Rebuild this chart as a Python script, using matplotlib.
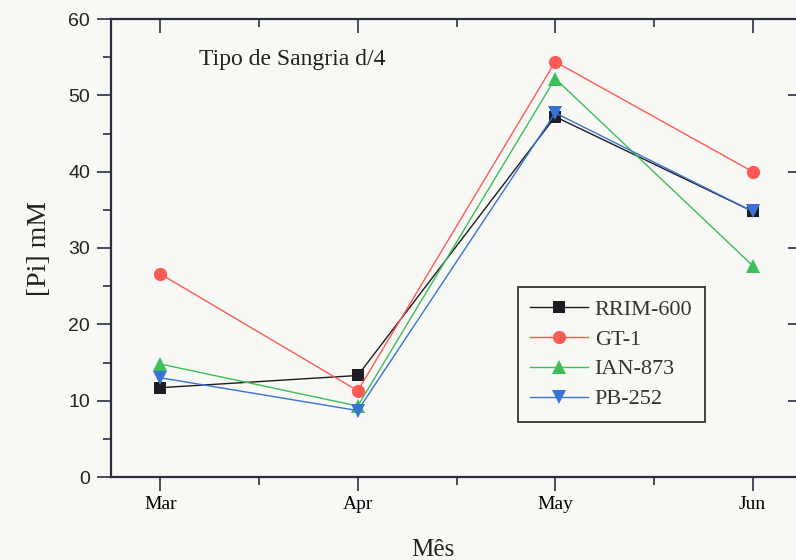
import matplotlib
matplotlib.use("Agg")
import matplotlib.pyplot as plt
from matplotlib.ticker import MultipleLocator, FixedLocator

# Monthly inorganic phosphate [Pi] in latex per clone
months = ["Mar", "Apr", "May", "Jun"]
rrim_600 = [11.7, 13.3, 47.2, 34.8]
gt_1 = [26.6, 11.3, 54.4, 40.0]
ian_873 = [14.8, 9.3, 52.2, 27.7]
pb_252 = [13.0, 8.7, 47.7, 34.8]

series = [
    ("RRIM-600", rrim_600, "#1c1c22", "s", 8.5),
    ("GT-1", gt_1, "#ff5a55", "o", 9.5),
    ("IAN-873", ian_873, "#3cbf5a", "^", 10),
    ("PB-252", pb_252, "#3a72d6", "v", 10),
]

serif = ["Liberation Serif", "DejaVu Serif"]
sans = ["Liberation Sans", "DejaVu Sans"]
bg = "#f8f8f5"
spine_c = "#2a2f40"

fig = plt.figure(figsize=(7.96, 5.60), dpi=100, facecolor=bg)
ax = fig.add_axes([111 / 796, 83 / 560, 691 / 796, 458 / 560])
ax.set_facecolor(bg)

x = list(range(len(months)))
for name, vals, col, mk, ms in series:
    ax.plot(x, vals, color=col, lw=1.0, marker=mk, markersize=ms,
            markeredgewidth=0, label=name, zorder=3)

ax.set_xlim(-0.25, 3.25)
ax.set_ylim(0, 60)

ax.xaxis.set_major_locator(FixedLocator(x))
ax.xaxis.set_minor_locator(MultipleLocator(0.5))
ax.set_xticks(x)
ax.set_xticklabels(months, fontfamily=serif, fontsize=14)
ax.yaxis.set_major_locator(MultipleLocator(10))
ax.yaxis.set_minor_locator(MultipleLocator(5))
for lab in ax.get_yticklabels():
    lab.set_fontfamily(sans)
    lab.set_fontsize(14)
    lab.set_color("#222222")

ax.tick_params(axis="both", which="major", direction="out", length=10,
               width=1.2, color=spine_c, pad=5)
ax.tick_params(axis="both", which="minor", direction="out", length=6,
               width=1.2, color=spine_c)
ax.tick_params(axis="x", which="major", pad=4)

for s in ax.spines.values():
    s.set_color(spine_c)
    s.set_linewidth(1.6)

# mirrored axes with inward ticks
top = ax.secondary_xaxis("top")
top.xaxis.set_major_locator(FixedLocator(x))
top.xaxis.set_minor_locator(MultipleLocator(0.5))
top.tick_params(which="both", direction="in", labeltop=False, color=spine_c, width=1.2)
top.tick_params(which="major", length=10)
top.tick_params(which="minor", length=6)
top.spines["top"].set_visible(False)

right = ax.secondary_yaxis("right")
right.yaxis.set_major_locator(MultipleLocator(10))
right.tick_params(which="major", direction="in", labelright=False, length=10,
                  color=spine_c, width=1.2)
right.tick_params(which="minor", right=False)
right.spines["right"].set_visible(False)

ax.set_xlabel("Mês", fontfamily=serif, fontsize=18, color="#222222")
ax.xaxis.set_label_coords(0.466, -0.135)
ax.set_ylabel("[Pi] mM", fontfamily=serif, fontsize=20, color="#222222", labelpad=12)

ax.text(0.128, 0.912, "Tipo de Sangria d/4", transform=ax.transAxes,
        fontfamily=serif, fontsize=17, color="#222222", va="center", ha="left")

leg = ax.legend(loc="upper left", bbox_to_anchor=(0.589, 0.415),
                borderaxespad=0, prop={"family": serif, "size": 16},
                frameon=True, fancybox=False, edgecolor="#333333",
                facecolor=bg, framealpha=1, handlelength=2.6,
                handletextpad=0.3, labelspacing=0.42, borderpad=0.55)
leg.get_frame().set_linewidth(1.3)
for t in leg.get_texts():
    t.set_color("#333333")

fig.savefig("out.png", dpi=100, facecolor=bg)
